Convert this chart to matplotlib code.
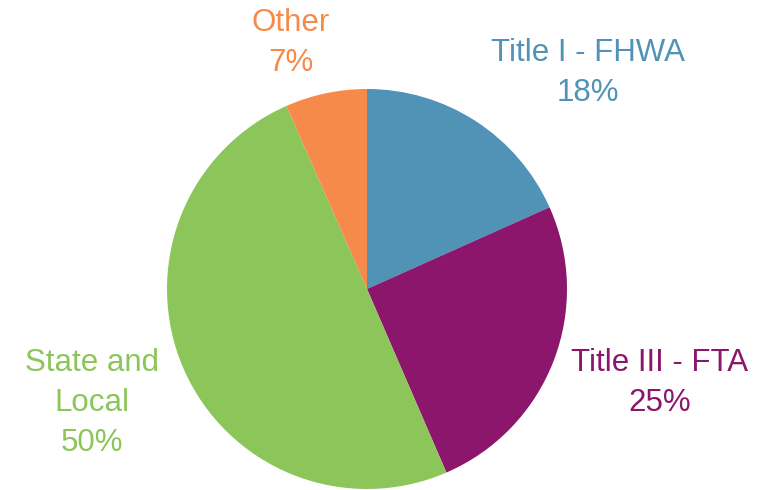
import matplotlib
matplotlib.use("Agg")
import matplotlib.pyplot as plt

categories = ["Title I - FHWA", "Title III - FTA", "State and\nLocal", "Other"]
values = [18.3, 25.2, 49.9, 6.6]
colors = ["#5093B6", "#8B166B", "#8CC55A", "#F68A4A"]

W, H = 762, 490
fig = plt.figure(figsize=(W / 100, H / 100), dpi=100)
cx, cy, r = 367, 289, 200
ax = fig.add_axes([(cx - r) / W, (H - cy - r) / H, 2 * r / W, 2 * r / H])
ax.pie(values, colors=colors, startangle=90, counterclock=False, radius=1,
       wedgeprops=dict(linewidth=0))
ax.set_xlim(-1, 1)
ax.set_ylim(-1, 1)
ax.set_aspect("equal")
ax.axis("off")

total = sum(values)
label_pos = [(588, 73), (660, 383), (92, 403), (291, 43)]
for cat, v, col, (px, py) in zip(categories, values, colors, label_pos):
    pct = round(v / total * 100)
    ax.text((px - cx) / r, (cy - py) / r, f"{cat}\n{pct}%", ha="center", va="center",
            color=col, fontsize=22.5, family="Liberation Sans", linespacing=1.45,
            clip_on=False)

fig.savefig("out.png", dpi=100)
